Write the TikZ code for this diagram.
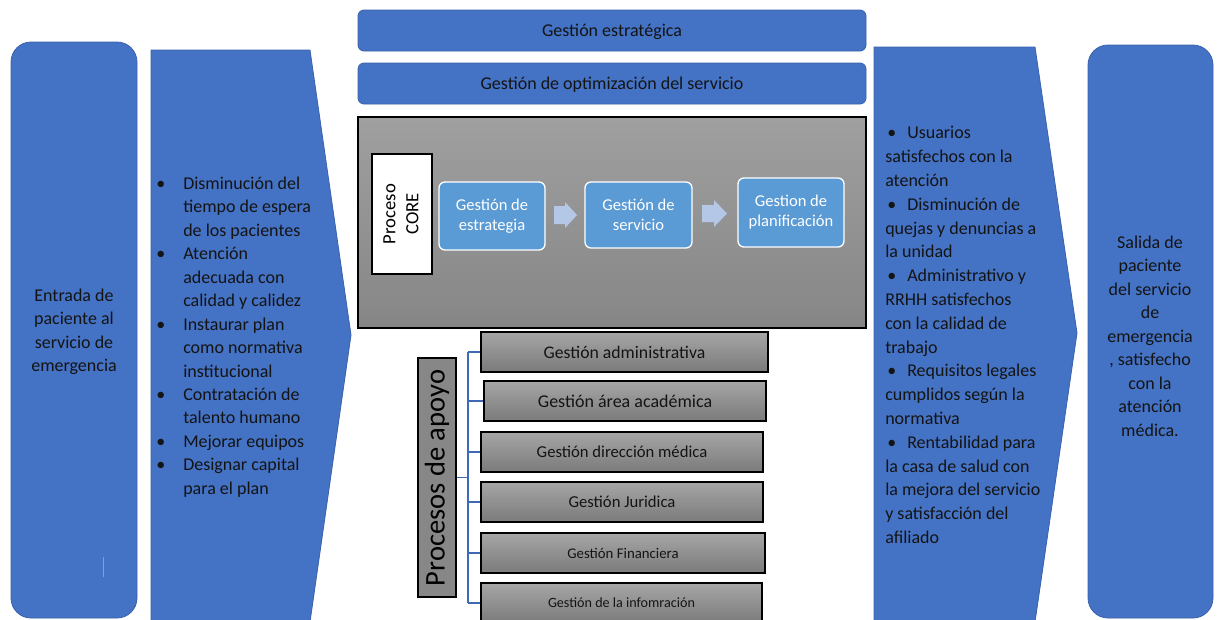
\documentclass[tikz,border=0pt]{standalone}
\usepackage{fontspec}
\setmainfont{Carlito}
\definecolor{myblue}{HTML}{4472C4}
\definecolor{myblueedge}{HTML}{3A62AC}
\definecolor{coreblue}{HTML}{5B9BD5}
\definecolor{arrowblue}{HTML}{B4C7E7}
\definecolor{txt}{HTML}{141414}
\definecolor{linkblue}{HTML}{3F68B5}
\definecolor{cursorcol}{HTML}{C8963C}
\begin{document}
\begin{tikzpicture}[x=0.75pt,y=-0.75pt,
  bluefill/.style={fill=myblue, draw=myblueedge, line width=0.6pt},
  bar/.style={bluefill, rounded corners=4.5pt, inner sep=0pt},
  bartext/.style={text=txt, inner sep=0pt, font=\fontsize{13.5pt}{16pt}\selectfont},
  bigtext/.style={text=txt, inner sep=0pt, font=\fontsize{13.5pt}{17.6pt}\selectfont},
  corebox/.style={fill=coreblue, draw=white, line width=1pt, rounded corners=4.5pt,
    text=white, align=center, inner sep=0pt, font=\fontsize{12.4pt}{15pt}\selectfont},
  graybox/.style={top color=gray!75, bottom color=gray!95, draw=black, line width=0.8pt, inner sep=0pt},
  subbox/.style={top color=black!35, bottom color=black!52, draw=black, line width=0.8pt,
    inner sep=0pt, text=txt, minimum height={40*0.75pt}},
  link/.style={draw=linkblue, line width=0.9pt},
  blockarrow/.style={fill=arrowblue, draw=none}
]
\useasboundingbox (0,0) rectangle (1218,619);
\clip (0,0) rectangle (1218,619);
\fill[white] (0,0) rectangle (1218,619);

% left input column
\node[bluefill, rounded corners=15pt, minimum width={126*0.75pt}, minimum height={576*0.75pt}] (entrada) at (74,330) {};
\node[bigtext, align=center] (entradatxt) at (74,332) {Entrada de\\paciente al\\servicio de\\emergencia};
\draw[cursorcol, line width=0.7pt] (103,557) -- (103,577);

% left chevron
\draw[bluefill] (151,50) -- (310,50) -- (351,335) -- (310,622) -- (151,622) -- cycle;
\node[bigtext, align=left, anchor=west] (inputs) at (156,337) {%
\makebox[20.25pt][l]{\textbullet}Disminución del\\
\hspace*{20.25pt}tiempo de espera\\
\hspace*{20.25pt}de los pacientes\\
\makebox[20.25pt][l]{\textbullet}Atención\\
\hspace*{20.25pt}adecuada con\\
\hspace*{20.25pt}calidad y calidez\\
\makebox[20.25pt][l]{\textbullet}Instaurar plan\\
\hspace*{20.25pt}como normativa\\
\hspace*{20.25pt}institucional\\
\makebox[20.25pt][l]{\textbullet}Contratación de\\
\hspace*{20.25pt}talento humano\\
\makebox[20.25pt][l]{\textbullet}Mejorar equipos\\
\makebox[20.25pt][l]{\textbullet}Designar capital\\
\hspace*{20.25pt}para el plan};

% top bars
\node[bar, minimum width={508*0.75pt}, minimum height={41*0.75pt}] (estrat) at (612,30.5) {};
\node[bartext] (estrattxt) at (612,32) {Gestión estratégica};
\node[bar, minimum width={508*0.75pt}, minimum height={41*0.75pt}] (optim) at (612,83.5) {};
\node[bartext] (optimtxt) at (612,85) {Gestión de optimización del servicio};

% core process
\node[graybox, minimum width={508*0.75pt}, minimum height={211*0.75pt}] (core) at (612,222.5) {};
\node[fill=white, draw=black, line width=0.8pt, minimum width={60*0.75pt}, minimum height={120*0.75pt}, inner sep=0pt] (corelabel) at (402,214) {};
\node[rotate=90, align=center, text=black, inner sep=0pt, font=\fontsize{14pt}{17.25pt}\selectfont] (coretxt) at (401,214) {Proceso\\CORE};
\node[corebox, minimum width={106*0.75pt}, minimum height={68*0.75pt}] (c1) at (492,216) {Gestión de\\estrategia};
\node[corebox, minimum width={107*0.75pt}, minimum height={66*0.75pt}] (c2) at (638.5,215) {Gestión de\\servicio};
\node[corebox, minimum width={106*0.75pt}, minimum height={69*0.75pt}] (c3) at (791,212.5) {Gestion de\\planificación};
\fill[blockarrow] (554,206) -- (565,206) -- (565,202) -- (577,215) -- (565,228) -- (565,224) -- (554,224) -- cycle;
\fill[blockarrow] (702,205) -- (714,205) -- (714,200) -- (727,213.5) -- (714,227) -- (714,222) -- (702,222) -- cycle;

% support processes
\node[fill=black!47, draw=black, line width=0.8pt, minimum width={38*0.75pt}, minimum height={239*0.75pt}, inner sep=0pt] (apoyo) at (437,477.5) {};
\node[rotate=90, text=black, inner sep=0pt, font=\fontsize{21.4pt}{24pt}\selectfont] (apoyotxt) at (437,478) {Procesos de apoyo};
\node[subbox, minimum width={287*0.75pt}, font=\fontsize{13.3pt}{16pt}\selectfont] (s1) at (624.5,352) {Gestión administrativa};
\node[subbox, minimum width={282*0.75pt}, font=\fontsize{13.5pt}{16pt}\selectfont] (s2) at (625,401) {Gestión área académica};
\node[subbox, minimum width={282*0.75pt}, font=\fontsize{12.5pt}{15pt}\selectfont] (s3) at (622,452) {Gestión dirección médica};
\node[subbox, minimum width={282*0.75pt}, font=\fontsize{12.5pt}{15pt}\selectfont] (s4) at (622,502) {Gestión Juridica};
\node[subbox, minimum width={284*0.75pt}, font=\fontsize{11.1pt}{13pt}\selectfont] (s5) at (623,553) {Gestión Financiera};
\node[subbox, minimum width={281*0.75pt}, font=\fontsize{10.6pt}{13pt}\selectfont] (s6) at (621.5,603) {Gestión de la infomración};
\coordinate (trunk) at (468,477.5);
\draw[link] (apoyo.east) -- (trunk);
\draw[link] (s1.west -| trunk) -- (s6.west -| trunk);
\foreach \s in {s1,s2,s3,s4,s5,s6} {\draw[link] (\s.west -| trunk) -- (\s.west);}

% right chevron
\draw[bluefill] (874,47) -- (1035,47) -- (1077,333) -- (1035,622) -- (874,622) -- cycle;
\node[bigtext, align=left, anchor=west, font=\fontsize{13.5pt}{17.85pt}\selectfont] (outputs) at (885,335) {%
\makebox[16.5pt][l]{\hspace{1.5pt}\textbullet}Usuarios\\
satisfechos con la\\
atención\\
\makebox[16.5pt][l]{\hspace{1.5pt}\textbullet}Disminución de\\
quejas y denuncias a\\
la unidad\\
\makebox[16.5pt][l]{\hspace{1.5pt}\textbullet}Administrativo y\\
RRHH satisfechos\\
con la calidad de\\
trabajo\\
\makebox[16.5pt][l]{\hspace{1.5pt}\textbullet}Requisitos legales\\
cumplidos según la\\
normativa\\
\makebox[16.5pt][l]{\hspace{1.5pt}\textbullet}Rentabilidad para\\
la casa de salud con\\
la mejora del servicio\\
y satisfacción del\\
afiliado};

% right output column
\node[bluefill, rounded corners=15pt, minimum width={125*0.75pt}, minimum height={573*0.75pt}] (salida) at (1150.5,331.5) {};
\node[bigtext, align=center] (salidatxt) at (1150,336) {Salida de\\paciente\\del servicio\\de\\emergencia\\, satisfecho\\con la\\atención\\médica.};
\end{tikzpicture}
\end{document}
